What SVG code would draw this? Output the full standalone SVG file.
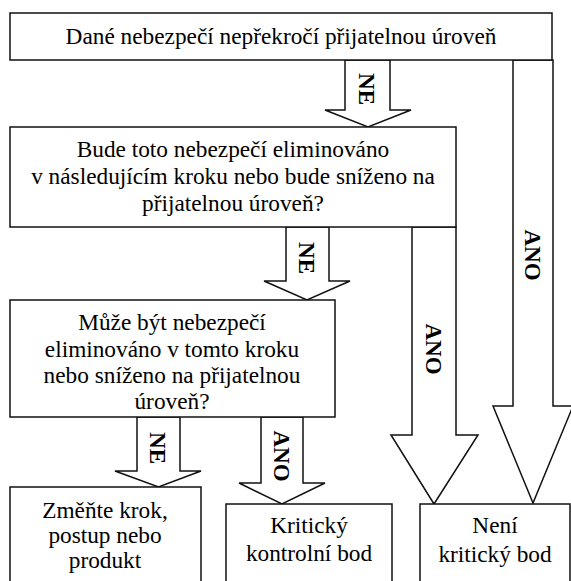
<svg xmlns="http://www.w3.org/2000/svg" width="571" height="581" viewBox="0 0 571 581">
<style>
.box{fill:#fff;stroke:#111;stroke-width:1.5}
.arr{fill:#fff;stroke:#111;stroke-width:1.5;stroke-linejoin:miter}
.t{font-family:'Liberation Serif','Times New Roman',serif;font-size:23.3px;fill:#000;text-anchor:middle}
.l{font-family:'Liberation Serif','Times New Roman',serif;font-size:23px;font-weight:bold;fill:#000;text-anchor:middle}
</style>
<rect width="571" height="581" fill="#fff"/>
<g id="connectors">
<polygon class="arr" points="513,60 553,60 553,406 573,406 533,503 493,406 513,406"/>
<polygon class="arr" points="412,227 456,227 456,435 478,435 434,504 391,435 412,435"/>
<polygon class="arr" points="345,60 390,60 390,110 411,110 368,127 325,110 345,110"/>
<polygon class="arr" points="286,227 329,227 329,281 350,281 307,300 264,281 286,281"/>
<polygon class="arr" points="137,417 180,417 180,471 201,471 158.5,487 115,471 137,471"/>
<polygon class="arr" points="261,417 303,417 303,483 325,483 282,504 239,483 261,483"/>
<text class="l" transform="translate(367,89) rotate(90)" dy="8">NE</text>
<text class="l" transform="translate(533,255) rotate(90)" dy="8">ANO</text>
<text class="l" transform="translate(434,349) rotate(90)" dy="8">ANO</text>
<text class="l" transform="translate(307,258) rotate(90)" dy="8">NE</text>
<text class="l" transform="translate(158,448) rotate(90)" dy="8">NE</text>
<text class="l" transform="translate(282,456) rotate(90)" dy="8">ANO</text>
</g>
<g id="n1">
<rect class="box" x="10" y="13" width="542" height="47"/>
<text class="t" x="281" y="44">Dané nebezpečí nepřekročí přijatelnou úroveň</text>
</g>
<g id="n2">
<rect class="box" x="10" y="127" width="446" height="100"/>
<text class="t" x="233" y="157">Bude toto nebezpečí eliminováno</text>
<text class="t" x="233" y="184">v následujícím kroku nebo bude sníženo na</text>
<text class="t" x="233" y="211">přijatelnou úroveň?</text>
</g>
<g id="n3">
<rect class="box" x="10" y="300" width="325" height="117"/>
<text class="t" x="172" y="330">Může být nebezpečí</text>
<text class="t" x="172" y="357">eliminováno v tomto kroku</text>
<text class="t" x="172" y="383">nebo sníženo na přijatelnou</text>
<text class="t" x="172" y="409">úroveň?</text>
</g>
<g id="n4">
<rect class="box" x="10" y="487" width="191" height="110"/>
<text class="t" x="105" y="518">Změňte krok,</text>
<text class="t" x="105" y="543">postup nebo</text>
<text class="t" x="105" y="568">produkt</text>
</g>
<g id="n5">
<rect class="box" x="226" y="504" width="166" height="100"/>
<text class="t" x="309" y="533">Kritický</text>
<text class="t" x="309" y="561">kontrolní bod</text>
</g>
<g id="n6">
<rect class="box" x="420" y="504" width="150" height="100"/>
<text class="t" x="495" y="533">Není</text>
<text class="t" x="495" y="562">kritický bod</text>
</g>
</svg>
